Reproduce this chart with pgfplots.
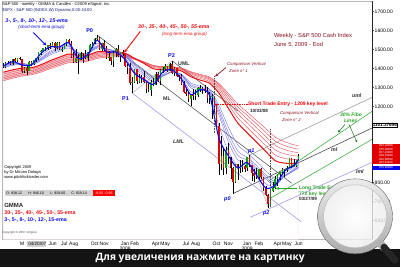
\documentclass[border=0pt]{standalone}
\usepackage{fontspec}
\setmainfont{Liberation Sans}
\newfontfamily\bannerfont{Open Sans}
\usepackage{pgfplots}
\pgfplotsset{compat=1.18}
\usepackage{pgfplotstable}
\usetikzlibrary{arrows.meta}

\newcommand{\fs}[1]{\fontsize{#1}{#1}\selectfont}

\definecolor{upgreen}{RGB}{0,165,0}
\definecolor{dnred}{RGB}{225,0,0}
\definecolor{emablue}{RGB}{10,10,235}
\definecolor{emalav}{RGB}{125,125,235}
\definecolor{emared}{RGB}{235,15,15}
\definecolor{emapink}{RGB}{235,85,95}
\definecolor{bandpink}{RGB}{248,200,206}
\definecolor{darkred}{RGB}{140,20,35}
\definecolor{fibgreen}{RGB}{40,165,40}
\definecolor{forkgray}{RGB}{95,95,95}
\definecolor{lav}{RGB}{165,155,230}
\definecolor{navy}{RGB}{20,20,110}

\tikzset{tagbase/.style={anchor=west, inner sep=0pt, minimum height=3.4pt, minimum width=27.5pt, font=\fs{2.9}, text=white}}

% weekly candles, week 0 = 5 Jan 2007
\pgfplotstableread{
w o h l c
1 1410 1432 1403 1430.7
4 1422 1449 1420 1448.4
6 1438 1457 1433 1455.5
9 1387 1408 1374 1402.8
11 1387 1437 1386 1436.1
13 1421 1445 1417 1443.8
14 1444 1453 1436 1452.9
15 1453 1485 1447 1484.4
16 1484 1499 1473 1494.1
17 1494 1510 1487 1505.6
19 1506 1523 1498 1522.8
21 1516 1540 1516 1536.3
23 1508 1538 1505 1532.9
25 1503 1514 1485 1503.4
26 1503 1533 1503 1530.4
27 1530 1556 1517 1552.5
31 1433 1504 1429 1453.6
33 1446 1484 1446 1479.4
36 1454 1489 1440 1484.3
37 1484 1530 1484 1525.8
38 1526 1538 1507 1526.8
39 1527 1561 1527 1557.6
40 1558 1576 1546 1561.8
42 1501 1536 1490 1535.3
45 1454 1492 1438 1458.7
47 1441 1488 1406 1481.1
48 1481 1510 1461 1504.7
50 1468 1485 1435 1484.5
55 1325 1355 1270 1330.6
56 1331 1397 1322 1395.4
58 1331 1369 1321 1350.0
59 1350 1363 1324 1353.1
63 1288 1341 1256 1329.5
65 1315 1380 1315 1370.4
67 1333 1395 1312 1390.3
68 1390 1405 1376 1397.8
69 1398 1422 1384 1413.9
71 1388 1426 1386 1425.4
73 1376 1406 1362 1400.4
80 1240 1263 1200 1260.7
82 1258 1285 1234 1260.3
83 1260 1303 1248 1296.3
84 1296 1314 1275 1298.2
88 1242 1274 1212 1251.7
89 1252 1265 1133 1255.1
93 899 1044 865 940.6
95 877 984 845 968.8
99 800 896 798 896.2
101 876 918 851 879.7
102 880 918 857 887.9
104 873 934 858 931.8
109 826 870 812 868.6
114 683 758 672 756.6
115 757 804 747 768.5
116 769 832 766 815.9
117 816 845 779 842.5
118 843 856 814 856.6
119 857 875 840 869.6
121 866 888 855 877.5
122 878 930 878 929.2
124 883 924 879 887.0
125 887 920 881 919.1
126 919 951 917 940.1
}\upcandles

\pgfplotstableread{
w o h l c
0 1418 1429 1403 1409.7
2 1431 1441 1424 1430.5
3 1430 1441 1416 1422.2
5 1448 1453 1437 1438.1
7 1455 1461 1448 1451.2
8 1451 1452 1374 1387.2
10 1403 1412 1364 1386.9
12 1436 1438 1412 1420.9
18 1506 1513 1491 1505.9
20 1523 1532 1500 1515.7
22 1536 1540 1490 1507.7
24 1533 1537 1500 1502.6
28 1552 1555 1529 1534.1
29 1534 1547 1455 1458.9
30 1459 1488 1432 1433.1
32 1454 1475 1371 1445.9
34 1479 1481 1430 1474.0
35 1474 1496 1450 1453.6
41 1562 1563 1500 1500.6
43 1535 1552 1492 1509.7
44 1510 1520 1453 1453.7
46 1459 1462 1420 1440.7
49 1505 1523 1467 1467.9
51 1484 1499 1467 1478.5
52 1479 1479 1410 1411.6
53 1412 1421 1371 1401.0
54 1401 1428 1312 1325.2
57 1395 1396 1316 1331.3
60 1353 1388 1326 1330.6
61 1331 1331 1270 1293.4
62 1293 1321 1274 1288.1
64 1330 1350 1312 1315.2
66 1370 1380 1328 1332.8
70 1414 1415 1381 1388.3
72 1425 1440 1371 1375.9
74 1400 1404 1359 1360.7
75 1361 1366 1335 1360.0
76 1360 1371 1317 1317.9
77 1318 1335 1272 1278.4
78 1278 1292 1253 1262.9
79 1263 1278 1225 1239.5
81 1261 1292 1235 1257.8
85 1298 1300 1264 1292.2
86 1292 1314 1268 1282.8
87 1283 1300 1217 1242.3
90 1255 1256 1171 1213.3
91 1213 1213 1080 1099.2
92 1099 1112 839 899.2
94 941 985 840 876.8
96 969 1007 899 931.0
97 931 934 818 873.3
98 873 882 741 800.0
100 896 896 815 876.1
103 888 890 857 872.8
105 932 943 883 890.4
106 890 891 805 850.1
107 850 871 804 832.0
108 832 877 819 825.9
110 869 876 818 826.8
111 827 827 754 770.1
112 770 780 734 735.1
113 735 740 667 683.4
120 870 871 826 866.2
123 929 930 878 882.9
}\dncandles

% GMMA: short (3..15) and long (30..55) exponential averages of the weekly close
\pgfplotstableread{
w e3 e5 e8 e10 e12 e15 e30 e35 e40 e45 e50 e55
0 1412.0 1414.0 1413.0 1411.0 1408.0 1404.0 1380.0 1370.0 1360.0 1351.0 1343.0 1335.0
4 1436.2 1430.4 1426.5 1423.8 1420.8 1416.5 1392.4 1382.9 1373.2 1364.4 1356.3 1348.2
8 1418.0 1424.1 1427.9 1426.5 1424.6 1421.5 1401.9 1393.1 1384.0 1375.6 1367.7 1359.6
12 1419.2 1417.1 1419.3 1419.8 1419.6 1418.5 1404.2 1396.9 1389.0 1381.5 1374.2 1366.6
16 1478.7 1464.6 1453.6 1449.4 1445.8 1441.2 1419.3 1411.6 1403.4 1395.7 1388.2 1380.4
20 1513.3 1503.7 1491.7 1484.9 1478.9 1471.2 1441.1 1432.2 1423.1 1414.7 1406.6 1398.2
24 1513.6 1512.6 1508.4 1503.2 1497.9 1490.6 1459.5 1450.1 1440.6 1431.8 1423.4 1414.6
28 1535.0 1529.3 1523.8 1519.5 1514.9 1508.0 1476.0 1466.4 1456.8 1447.8 1439.2 1430.2
32 1452.6 1462.5 1475.4 1479.8 1482.1 1483.0 1469.4 1462.6 1455.2 1447.8 1440.5 1432.6
36 1473.1 1470.1 1473.8 1476.0 1477.6 1478.8 1470.2 1464.7 1458.4 1451.9 1445.3 1438.0
40 1548.6 1532.9 1519.9 1514.9 1511.2 1506.8 1487.2 1480.7 1473.7 1466.7 1459.8 1452.2
44 1486.8 1497.5 1504.3 1504.0 1503.4 1502.0 1490.1 1484.6 1478.4 1472.1 1465.7 1458.6
48 1486.8 1483.0 1486.3 1488.5 1490.0 1491.2 1485.7 1481.9 1477.1 1472.0 1466.5 1460.3
52 1445.7 1455.9 1467.0 1470.5 1473.4 1476.6 1479.8 1477.6 1474.1 1470.1 1465.6 1460.3
56 1373.9 1382.2 1401.4 1411.4 1419.9 1429.8 1452.5 1454.2 1454.0 1452.7 1450.4 1447.2
60 1341.4 1347.8 1363.2 1372.6 1381.5 1393.1 1426.5 1431.2 1433.6 1434.5 1434.3 1432.9
64 1315.7 1317.7 1329.0 1337.6 1346.3 1358.4 1398.4 1405.8 1410.6 1413.7 1415.4 1415.8
68 1381.0 1367.0 1359.1 1359.1 1361.0 1365.9 1392.4 1399.1 1403.8 1407.0 1409.1 1410.0
72 1392.5 1389.8 1384.3 1381.0 1379.4 1379.5 1394.4 1399.5 1403.3 1406.0 1407.9 1408.8
76 1343.6 1355.0 1364.8 1365.8 1366.8 1368.8 1386.3 1391.4 1395.4 1398.5 1400.8 1402.2
80 1262.0 1275.8 1297.5 1306.7 1314.1 1323.2 1356.8 1364.7 1371.0 1376.0 1380.0 1383.1
84 1288.2 1282.8 1287.7 1293.1 1298.5 1306.2 1338.4 1347.1 1354.2 1360.1 1364.9 1368.9
88 1258.1 1263.5 1272.2 1276.7 1281.4 1288.4 1321.8 1330.8 1338.5 1345.0 1350.5 1355.2
92 1033.1 1096.6 1154.4 1171.6 1186.4 1204.8 1270.0 1283.7 1295.3 1305.1 1313.4 1320.8
96 940.7 964.4 1012.8 1038.8 1062.0 1091.5 1190.3 1211.4 1229.1 1243.8 1256.6 1267.9
100 875.5 885.9 918.6 942.5 965.7 997.4 1113.3 1140.0 1162.5 1181.5 1198.1 1213.0
104 904.8 897.3 904.8 917.3 932.2 955.8 1061.8 1089.6 1113.7 1134.5 1153.0 1169.8
108 839.4 850.7 866.6 877.1 889.5 909.7 1012.1 1040.6 1065.9 1088.1 1108.1 1126.6
112 770.2 792.0 817.3 828.3 840.4 859.6 962.5 991.6 1017.8 1041.2 1062.5 1082.5
116 785.5 778.2 784.9 794.0 804.3 820.9 914.2 943.6 970.4 994.7 1017.2 1038.4
120 859.3 845.2 833.0 830.8 831.8 837.4 901.2 926.3 950.2 972.5 993.7 1014.1
124 888.9 882.5 871.3 865.4 861.8 860.6 899.6 919.8 940.1 959.7 979.0 997.9
126 922.1 908.9 894.6 886.9 881.2 876.9 903.4 920.9 939.1 957.1 975.2 993.1
}\emas

\begin{document}
\begin{tikzpicture}[x=1pt,y=1pt]
\fill[white] (0,0) rectangle (400,266);

\begin{axis}[
  at={(2pt,28pt)}, anchor=south west, scale only axis,
  width=370pt, height=238pt,
  xmin=-0.43, xmax=157.3, ymin=500, ymax=1752.6,
  clip=false,
  axis line style={draw=gray!55, line width=0.5pt},
  ytick={600,700,800,1200,1300,1400,1500,1600,1700},
  yticklabels={600.00,700.00,800.00,1200.00,1300.00,1400.00,1500.00,1600.00,1700.00},
  ytick pos=right, yticklabel pos=right,
  yticklabel style={font=\fs{5}, inner sep=1pt},
  ytick style={draw=black!70, line width=0.3pt},
  major tick length=1.5pt, tick align=outside,
  xtick={8,21,26,30,39,43,52,56,65,69,78,82,91,96,104,109,117,121,126},
  xticklabels={M,Jun,Jul,Aug,Oct,Nov,{Jan\\2008},Feb,Apr,May,Jul,Aug,Oct,Nov,{Jan\\2009},Feb,Apr,May,Jun},
  xticklabel style={font=\fs{5}, align=center, inner sep=1pt},
  xtick style={draw=none},
]

% ---- long-term group band: area under the 30-ema, then cleared under the 55-ema
\addplot[draw=none, fill=bandpink, smooth] table[x=w,y=e30]{\emas} \closedcycle;
\addplot[draw=none, fill=white, smooth] table[x=w,y=e55]{\emas} \closedcycle;

% ---- pitchfork (P0, P1, P2)
\addplot[forkgray, line width=0.6pt] coordinates {(40,1576) (123,795.5)};
\addplot[forkgray, line width=0.6pt] coordinates {(72,1440) (100,1176.7)};
\addplot[lav, line width=0.6pt] coordinates {(55,1270) (127,592.9)};
\addplot[gray!70, line width=0.4pt] coordinates {(55,1270) (72,1440)};
% ---- pitchfork (p0, p1, p2)
\addplot[forkgray!80!black, line width=0.6pt] coordinates {(98,741) (157.3,1086)};
\addplot[gray!75, line width=0.6pt] coordinates {(105,943) (157.3,1247.3)};
\addplot[lav, line width=0.6pt] coordinates {(105.3,615.8) (157.3,905.3)};
\addplot[gray!70, line width=0.4pt] coordinates {(105,943) (113,667)};
% ---- 30% fibo lines
\addplot[fibgreen, line width=0.5pt] coordinates {(113,805.3) (157.3,1173.7)};
\addplot[fibgreen, line width=0.5pt] coordinates {(113.8,715.8) (157.3,1026.3)};

% ---- long-term emas
\addplot[emapink, line width=0.45pt, smooth] table[x=w,y=e55]{\emas};
\addplot[emapink, line width=0.45pt, smooth] table[x=w,y=e50]{\emas};
\addplot[emapink, line width=0.45pt, smooth] table[x=w,y=e45]{\emas};
\addplot[emapink, line width=0.45pt, smooth] table[x=w,y=e40]{\emas};
\addplot[emapink, line width=0.45pt, smooth] table[x=w,y=e35]{\emas};
\addplot[emared, line width=1pt, smooth] table[x=w,y=e30]{\emas};
% ---- short-term emas
\addplot[emalav, line width=0.45pt, smooth] table[x=w,y=e15]{\emas};
\addplot[emalav, line width=0.45pt, smooth] table[x=w,y=e12]{\emas};
\addplot[emalav, line width=0.45pt, smooth] table[x=w,y=e10]{\emas};
\addplot[emalav, line width=0.45pt, smooth] table[x=w,y=e8]{\emas};
\addplot[emalav, line width=0.45pt, smooth] table[x=w,y=e5]{\emas};

% ---- candles: wicks then bodies
\addplot[draw=none, mark=none, error bars/.cd, y dir=both, y explicit, error mark=none,
  error bar style={draw=black, line width=0.35pt}]
  table[x=w, y=c, y error plus expr={\thisrow{h}-\thisrow{c}}, y error minus expr={\thisrow{c}-\thisrow{l}}]{\upcandles};
\addplot[draw=none, mark=none, error bars/.cd, y dir=both, y explicit, error mark=none,
  error bar style={draw=black, line width=0.35pt}]
  table[x=w, y=c, y error plus expr={\thisrow{h}-\thisrow{c}}, y error minus expr={\thisrow{c}-\thisrow{l}}]{\dncandles};
\addplot[draw=none, mark=none, error bars/.cd, y dir=minus, y explicit, error mark=none,
  error bar style={draw=upgreen, line width=1.5pt}]
  table[x=w, y=c, y error minus expr={\thisrow{c}-\thisrow{o}}]{\upcandles};
\addplot[draw=none, mark=none, error bars/.cd, y dir=minus, y explicit, error mark=none,
  error bar style={draw=dnred, line width=1.5pt}]
  table[x=w, y=o, y error minus expr={\thisrow{o}-\thisrow{c}}]{\dncandles};

\addplot[emablue, line width=1.1pt, smooth] table[x=w,y=e3]{\emas};

% ---- comparison zones and key levels
\addplot[black!70, densely dotted, line width=0.6pt] coordinates {(90,1358) (90,1058)};
\addplot[black!70, densely dotted, line width=0.6pt] coordinates {(113.8,1079) (113.8,674)};
\addplot[red, densely dotted, line width=0.7pt] coordinates {(90.3,1209) (104.5,1209)};
% darker price-scale edge
\addplot[black!85, line width=0.6pt] coordinates {(157.3,500) (157.3,1752.6)};

% ---- value tags on the price scale
\node[draw=black, fill=white, anchor=west, inner sep=0.6pt, font=\fs{4.6}\bfseries] at (axis cs:157.3,1101.38) {1101.37656};
\node[tagbase, fill=dnred] at (axis cs:157.3,993.1) {993.10000};
\node[tagbase, fill=dnred] at (axis cs:157.3,975.2) {975.20000};
\node[tagbase, fill=dnred] at (axis cs:157.3,957.1) {957.10000};
\node[tagbase, fill=dnred] at (axis cs:157.3,939.1) {939.10000};
\node[tagbase, fill=dnred] at (axis cs:157.3,920.9) {920.90000};
\node[tagbase, fill=dnred] at (axis cs:157.3,903.4) {903.40000};
\node[tagbase, fill=emablue, minimum height=4pt] at (axis cs:157.3,876.9) {876.90000};
\end{axis}

\begin{scope}[yshift=266pt, yscale=-1, lbl/.style={anchor=west, inner sep=0pt, outer sep=0pt}]
% headers
\node[lbl, font=\fs{4.1}] at (2,3) {S\&P 500 - weekly - GMMA \& Candles - ©2009 eSignal, Inc.};
\node[lbl, font=\fs{4.1}, text=navy] at (2,9) {\$SPX - S\&P 500 (INDEX,W) Dynamic,0:00-24:00};
% ema group notes
\node[lbl, font=\fs{5.3}\bfseries\itshape, text=emablue] at (5,20) {3-, 5-, 8-, 10-, 12-, 15-ema};
\node[lbl, font=\fs{4.5}\itshape, text=emablue] at (18,26) {(short-term ema group)};
\draw[emablue, line width=0.9pt, -{Stealth[length=3.5pt,width=3.5pt]}] (33,31) -- (46,44);
\node[lbl, font=\fs{5.3}\bfseries\itshape, text=emared] at (138,26) {30-, 35-, 40-, 45-, 50-, 55-ema};
\node[lbl, font=\fs{4.5}\itshape, text=emared] at (162,33) {(long-term ema group)};
\draw[emared, line width=0.9pt, -{Stealth[length=3.5pt,width=3.5pt]}] (140,30) -- (124,51);
% pitchfork labels
\node[lbl, font=\fs{5.5}\bfseries, text=emablue] at (86,29) {P0};
\node[lbl, font=\fs{5.5}\bfseries, text=emablue] at (122,97) {P1};
\node[lbl, font=\fs{5.5}\bfseries, text=emablue] at (168,54) {P2};
\node[lbl, font=\fs{5.3}\bfseries, text=black!80] at (178,62) {UML};
\node[lbl, font=\fs{5.3}\bfseries, text=black!80] at (163,97) {ML};
\node[lbl, font=\fs{5.3}\bfseries\itshape, text=black!80] at (173,140) {LML};
\node[lbl, font=\fs{5.5}\bfseries\itshape, text=emablue] at (224,198) {p0};
\node[lbl, font=\fs{5.5}\bfseries\itshape, text=emablue] at (248,150) {p1};
\node[lbl, font=\fs{5.5}\bfseries\itshape, text=emablue] at (263,212) {p2};
\node[lbl, font=\fs{5.3}\bfseries\itshape, text=black!80] at (352,94) {uml};
\node[lbl, font=\fs{5.3}\bfseries\itshape, text=black!80] at (331,148) {ml};
\node[lbl, font=\fs{5.3}\bfseries\itshape, text=black!80] at (356,170) {lml};
% titles
\node[lbl, font=\fs{5.8}, text=darkred] at (274,35) {Weekly - S\&P 500 Cash Index};
\node[lbl, font=\fs{5.8}, text=darkred] at (274,43) {June 5, 2009 - Eod};
% comparison zones
\node[lbl, font=\fs{4.3}\itshape, text=darkred] at (227,63) {Comparison Vertical};
\node[lbl, font=\fs{4.3}\itshape, text=darkred] at (229,70) {Zone n° 1};
\draw[darkred, line width=0.7pt, -{Stealth[length=3pt,width=3pt]}] (226,66) -- (215,75);
\node[lbl, font=\fs{4.3}\itshape, text=darkred] at (280,112) {Comparison Vertical};
\node[lbl, font=\fs{4.3}\itshape, text=darkred] at (282,119) {Zone n° 2};
% trade entries
\node[lbl, font=\fs{5}\bfseries, text=red] at (248,102.5) {Short Trade Entry - 1209 key level};
\node[lbl, font=\fs{4.6}\bfseries, text=black!85] at (250,109) {10/03/08};
\node[lbl, font=\fs{5}\bfseries, text=fibgreen] at (299,187) {Long Trade Entry -};
\node[lbl, font=\fs{5}\bfseries, text=fibgreen] at (299,192.5) {772 key level};
\node[lbl, font=\fs{4.6}\bfseries, text=black!85] at (299,198) {03/27/09};
\draw[fibgreen, line width=0.7pt, -{Stealth[length=3pt,width=3pt]}] (297,187) -- (276,187);
% fibo note
\node[lbl, font=\fs{5}\bfseries\itshape, text=fibgreen] at (340,113) {30\% Fibo};
\node[lbl, font=\fs{5}\bfseries\itshape, text=fibgreen] at (344,119.5) {Lines};
\draw[fibgreen!70!black, line width=0.5pt, -{Stealth[length=2.5pt,width=2.5pt]}] (345,123) -- (338,131);
\draw[fibgreen!70!black, line width=0.5pt, -{Stealth[length=2.5pt,width=2.5pt]}] (349,123) -- (357,141);
% author block
\node[lbl, font=\fs{4}] at (4,166.5) {Copyright 2009};
\node[lbl, font=\fs{4}] at (4,171.5) {by Dr Mircea Dologa};
\node[lbl, font=\fs{4}] at (4,176.5) {www.pitchforktrader.com};
% OHLC strip
\fill[gray!35] (5,189) rectangle (93,194.5);
\fill[red] (93,189) rectangle (115,194.5);
\node[lbl, font=\fs{3.6}] at (6,191.8) {O: 938.12};
\node[lbl, font=\fs{3.6}] at (28,191.8) {H: 946.10};
\node[lbl, font=\fs{3.6}] at (50,191.8) {L: 929.60};
\node[lbl, font=\fs{3.6}] at (71,191.8) {C: 929.14};
\node[lbl, font=\fs{3.6}, text=white] at (95,191.8) {-9.05 -0.96};
% gmma legend
\node[lbl, font=\fs{6}\bfseries, text=black!85] at (4,204) {GMMA};
\node[lbl, font=\fs{5.3}\bfseries, text=emared] at (4,211.5) {30-, 35-, 40-, 45-, 50-, 55-ema};
\node[lbl, font=\fs{5.3}\bfseries, text=emablue] at (4,218.5) {3-, 5-, 8-, 10-, 12-, 15-ema};
\node[lbl, font=\fs{3}, text=black!70] at (2,231.5) {Copyright © 2007 eSignal};
% cursor date
\fill[gray!35] (27,239.5) rectangle (46,245.5);
\node[lbl, font=\fs{4.6}] at (28,242.6) {04/20/07};
% banner
\fill[black!92] (0,248) rectangle (400,266);
\node[font=\bannerfont\bfseries\fs{10.2}, text=white] at (200,256.8) {Для увеличения нажмите на картинку};
% magnifier
\fill[white, opacity=0.6] (355,215) circle (32);
\shade[inner color=white, outer color=gray!25, opacity=0.45] (355,215) circle (32);
\shade[top color=gray!15, bottom color=gray!65, even odd rule] (355,215) circle (37.5) (355,215) circle (31.5);
\draw[gray!75!black, line width=0.4pt] (355,215) circle (37.5);
\draw[gray!55, line width=0.4pt] (355,215) circle (31.5);
\draw[line width=8pt, line cap=round, gray!60] (380,242) -- (384,246);
\draw[line width=7pt, line cap=round, black!85] (384,246) -- (395,259);
\end{scope}
\end{tikzpicture}
\end{document}
